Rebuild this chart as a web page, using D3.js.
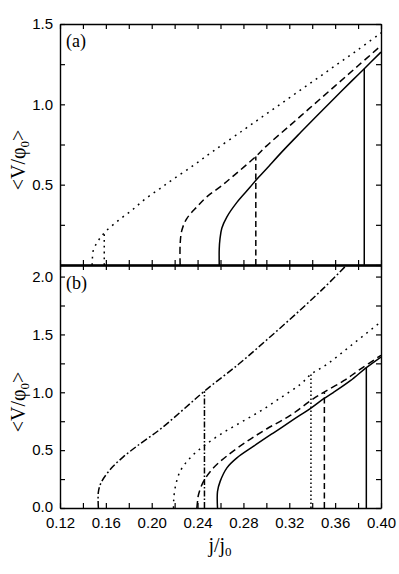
<!DOCTYPE html>
<html>
<head>
<meta charset="utf-8">
<script src="https://cdn.jsdelivr.net/npm/d3@7"></script>
<style>
body { margin: 0; background: #fff; }
.tick text { font-family: "Liberation Sans", Arial, sans-serif; font-size: 15px; fill: #000; }
.tick line { stroke: #000; stroke-width: 1.2; }
.domain { stroke: #000; stroke-width: 1.4; }
.lbl { font-family: "Liberation Serif", "Times New Roman", serif; fill: #000; }
</style>
</head>
<body>
<svg id="chart" width="399" height="574"></svg>
<script>
// axis ticks
var xTicks = [0.12, 0.14, 0.16, 0.18, 0.20, 0.22, 0.24, 0.26, 0.28, 0.30, 0.32, 0.34, 0.36, 0.38, 0.40];
var xLabeled = ["0.12", "0.16", "0.20", "0.24", "0.28", "0.32", "0.36", "0.40"];
var yTicksA = [0, 0.25, 0.5, 0.75, 1.0, 1.25, 1.5];
var yLabeledA = ["0.5", "1.0", "1.5"];
var yTicksB = [0, 0.25, 0.5, 0.75, 1.0, 1.25, 1.5, 1.75, 2.0];
var yLabeledB = ["0.0", "0.5", "1.0", "1.5", "2.0"];

// panel (a) branches, [j/j0, <V/phi0>]
var aDotted = [[0.148, 0], [0.1482, 0.03], [0.149, 0.09], [0.1535, 0.153], [0.1593, 0.205], [0.171, 0.278],
  [0.1826, 0.34], [0.1942, 0.41], [0.2073, 0.476], [0.219, 0.535], [0.2364, 0.62], [0.2539, 0.71],
  [0.28, 0.84], [0.30, 0.94], [0.32, 1.04], [0.34, 1.14], [0.36, 1.24], [0.38, 1.34], [0.40, 1.445]];
var aDashed = [[0.2248, 0], [0.2248, 0.13], [0.2263, 0.216], [0.2306, 0.289], [0.2393, 0.361], [0.248, 0.424],
  [0.2597, 0.486], [0.2713, 0.555], [0.2908, 0.675], [0.30, 0.74], [0.32, 0.865], [0.34, 0.99],
  [0.36, 1.115], [0.38, 1.24], [0.40, 1.365]];
var aSolid = [[0.2589, 0], [0.2589, 0.10], [0.2595, 0.16], [0.2612, 0.23], [0.2656, 0.30], [0.2743, 0.39],
  [0.2859, 0.485], [0.2909, 0.528], [0.30, 0.598], [0.315, 0.715], [0.33, 0.826], [0.345, 0.935],
  [0.36, 1.043], [0.375, 1.149], [0.3854, 1.222], [0.40, 1.325]];
// switching jumps (j, V at top) for dotted, dashed, solid
var aJumps = [[0.1586, 0.20], [0.2908, 0.675], [0.3854, 1.222]];

// panel (b) branches
var bDashDot = [[0.1535, 0], [0.1535, 0.14], [0.1564, 0.23], [0.1651, 0.347], [0.175, 0.44], [0.187, 0.534],
  [0.2073, 0.68], [0.2277, 0.852], [0.246, 1.01], [0.2757, 1.242], [0.30, 1.45], [0.325, 1.67],
  [0.35, 1.9], [0.372, 2.12]];
var bDotted = [[0.219, 0], [0.2192, 0.07], [0.2204, 0.173], [0.2248, 0.317], [0.2335, 0.433], [0.2452, 0.534],
  [0.2597, 0.635], [0.2772, 0.737], [0.2947, 0.837], [0.3121, 0.95], [0.3296, 1.068], [0.3389, 1.155],
  [0.3529, 1.242], [0.3733, 1.40], [0.40, 1.61]];
var bDashed = [[0.2394, 0], [0.2400, 0.06], [0.2408, 0.115], [0.2452, 0.23], [0.2539, 0.347], [0.2656, 0.45],
  [0.283, 0.575], [0.3005, 0.685], [0.3209, 0.80], [0.3389, 0.93], [0.35, 1.0], [0.3675, 1.1],
  [0.382, 1.2], [0.40, 1.32]];
var bSolid = [[0.2574, 0], [0.2574, 0.144], [0.2597, 0.23], [0.2656, 0.347], [0.2743, 0.433], [0.2889, 0.534],
  [0.3063, 0.65], [0.3238, 0.765], [0.3398, 0.87], [0.35, 0.945], [0.3587, 1.0], [0.3733, 1.1],
  [0.3872, 1.213], [0.40, 1.305]];
// jumps for dash-dot, dotted, dashed, solid
var bJumps = [[0.246, 1.01], [0.3389, 1.155], [0.3506, 1.0], [0.3872, 1.213]];

var dash = {
  solid: null,
  dashed: "7,4",
  dotted: "1.8,4.8",
  dashdot: "7,2.5,1.8,2.5",
  vdotted: "1.5,2.5",
  vdashed: "6,3.5",
  vdashdot: "6,2,1.5,2"
};

var svg = d3.select("#chart");
var left = 60, right = 381, mid = 265;

var x = d3.scaleLinear().domain([0.12, 0.40]).range([left, right]);
var yA = d3.scaleLinear().domain([0, 1.5]).range([mid, 24]);
var yB = d3.scaleLinear().domain([0, 2.1]).range([508, mid]);

function xFmt(v) {
	var s = d3.format(".2f")(v);
	return xLabeled.indexOf(s) >= 0 ? s : "";
}
function yFmt(list) {
	return function(v) {
		var s = d3.format(".1f")(v);
		return list.indexOf(s) >= 0 && v % 0.5 == 0 ? s : "";
	};
}

function clip(id, y) {
	svg.append("clipPath").attr("id", id)
		.append("rect")
		.attr("x", left).attr("y", y.range()[1])
		.attr("width", right - left).attr("height", y.range()[0] - y.range()[1]);
}
clip("clipA", yA);
clip("clipB", yB);

function drawPanel(y, clipId, curves, jumps) {
	var g = svg.append("g").attr("clip-path", "url(#" + clipId + ")");
	var line = d3.line()
		.x(function(d) {return x(d[0]);})
		.y(function(d) {return y(d[1]);})
		.curve(d3.curveCatmullRom.alpha(0.5));

	curves.forEach(function(c) {
		g.append("path")
			.attr("d", line(c.pts))
			.attr("fill", "none")
			.attr("stroke", "#000")
			.attr("stroke-width", 1.5)
			.attr("stroke-dasharray", c.dash);
	});
	jumps.forEach(function(c) {
		g.append("line")
			.attr("x1", x(c.pt[0])).attr("x2", x(c.pt[0]))
			.attr("y1", y(0)).attr("y2", y(c.pt[1]))
			.attr("stroke", "#000")
			.attr("stroke-width", 1.5)
			.attr("stroke-dasharray", c.dash);
	});
}

drawPanel(yA, "clipA",
	[{pts: aDotted, dash: dash.dotted}, {pts: aDashed, dash: dash.dashed}, {pts: aSolid, dash: dash.solid}],
	[{pt: aJumps[0], dash: "1.8,4"}, {pt: aJumps[1], dash: dash.vdashed}, {pt: aJumps[2], dash: dash.solid}]);

drawPanel(yB, "clipB",
	[{pts: bDashDot, dash: dash.dashdot}, {pts: bDotted, dash: dash.dotted},
	 {pts: bDashed, dash: dash.dashed}, {pts: bSolid, dash: dash.solid}],
	[{pt: bJumps[0], dash: dash.vdashdot}, {pt: bJumps[1], dash: dash.vdotted},
	 {pt: bJumps[2], dash: dash.vdashed}, {pt: bJumps[3], dash: dash.solid}]);

// axes, ticks point inward
var tk = 5;
// panel a
svg.append("g").attr("transform", "translate(" + left + ",0)")
	.call(d3.axisLeft(yA).tickValues(yTicksA).tickFormat(yFmt(yLabeledA)).tickSize(-tk).tickSizeOuter(0).tickPadding(7));
svg.append("g").attr("transform", "translate(" + right + ",0)")
	.call(d3.axisRight(yA).tickValues(yTicksA).tickFormat("").tickSize(-tk).tickSizeOuter(0));
svg.append("g").attr("transform", "translate(0," + yA(1.5) + ")")
	.call(d3.axisTop(x).tickValues(xTicks).tickFormat("").tickSize(-tk).tickSizeOuter(0));
svg.append("g").attr("class", "midAxis").attr("transform", "translate(0," + mid + ")")
	.call(d3.axisBottom(x).tickValues(xTicks).tickFormat("").tickSize(-tk).tickSizeOuter(0));

// panel b
svg.append("g").attr("transform", "translate(" + left + ",0)")
	.call(d3.axisLeft(yB).tickValues(yTicksB).tickFormat(yFmt(yLabeledB)).tickSize(-tk).tickSizeOuter(0).tickPadding(7));
svg.append("g").attr("transform", "translate(" + right + ",0)")
	.call(d3.axisRight(yB).tickValues(yTicksB).tickFormat("").tickSize(-tk).tickSizeOuter(0));
svg.append("g").attr("transform", "translate(0," + mid + ")")
	.call(d3.axisTop(x).tickValues(xTicks).tickFormat("").tickSize(-tk).tickSizeOuter(0));
svg.append("g").attr("transform", "translate(0," + yB(0) + ")")
	.call(d3.axisBottom(x).tickValues(xTicks).tickFormat(xFmt).tickSize(-tk).tickSizeOuter(0).tickPadding(9));

svg.select(".midAxis .domain").style("stroke-width", 2.6);

// nudge the bottom-left 0.0 label up a little so it clears 0.12
svg.selectAll(".tick text").filter(function() {return this.textContent == "0.0";}).attr("dy", "0.2em");

// panel tags
svg.append("text").attr("class", "lbl").attr("x", 66).attr("y", 47).style("font-size", "18px").text("(a)");
svg.append("text").attr("class", "lbl").attr("x", 66).attr("y", 289).style("font-size", "18px").text("(b)");

// y labels
function yLabel(cy) {
	var t = svg.append("text").attr("class", "lbl")
		.attr("transform", "translate(25," + cy + ") rotate(-90)")
		.attr("text-anchor", "middle")
		.style("font-size", "20px");
	t.append("tspan").text("<V/φ");
	t.append("tspan").attr("dy", 4).style("font-size", "13px").text("0");
	t.append("tspan").attr("dy", -4).text(">");
}
yLabel(160);
yLabel(402);

// x label
var xl = svg.append("text").attr("class", "lbl")
	.attr("x", 220).attr("y", 552)
	.attr("text-anchor", "middle")
	.style("font-size", "20px");
xl.append("tspan").text("j/j");
xl.append("tspan").attr("dy", 4).style("font-size", "13px").text("0");
</script>
</body>
</html>
